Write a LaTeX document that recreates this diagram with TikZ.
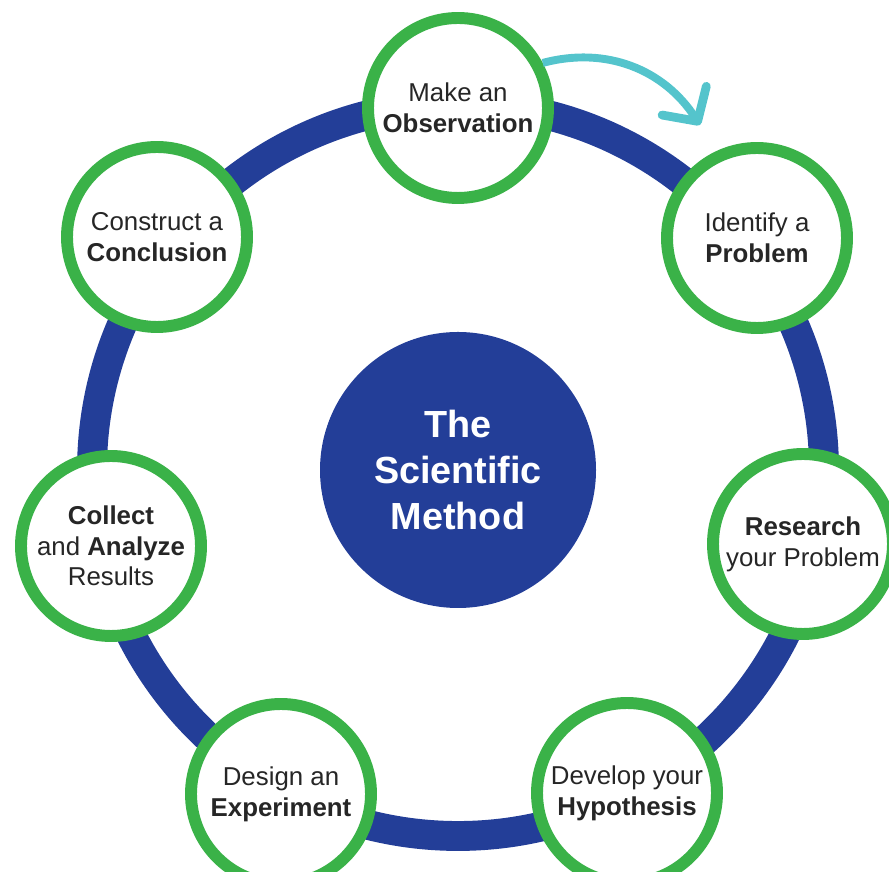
\documentclass[tikz,border=0pt]{standalone}
\usepackage{fontspec}
\setmainfont{Liberation Sans}
\usepackage{tikz}
\usetikzlibrary{shapes,arrows.meta,positioning}
\usepackage{xcolor}
\definecolor{ringblue}{RGB}{35,62,152}
\definecolor{stagegreen}{RGB}{58,178,72}
\definecolor{arrowteal}{RGB}{84,196,204}
\definecolor{textgray}{RGB}{38,38,38}

\begin{document}
\begin{tikzpicture}
\tikzstyle{stage}=[circle, draw=stagegreen, line width=6.8pt, fill=white, minimum size=3.6cm, inner sep=0pt, align=center, text=textgray, font=\fontsize{14.7}{17.5}\selectfont]
\tikzstyle{hub}=[circle, fill=ringblue, minimum size=5.52cm, inner sep=0pt, align=center, text=white, font=\bfseries\fontsize{21.5}{26}\selectfont]

\useasboundingbox (0,0) rectangle (17.78,17.44);

\node[hub] (method) at (9.16,8.04) {The\\Scientific\\Method};
\draw[ringblue, line width=17pt] (method.center) circle (7.32);

\node[stage] (observe) at (9.16,15.28) {Make an\\\textbf{Observation}};
\node[stage] (problem) at (15.14,12.68) {Identify a\\\textbf{Problem}};
\node[stage] (research) at (16.06,6.56) {\textbf{Research}\\your Problem};
\node[stage] (hypothesis) at (12.54,1.58) {Develop your\\\textbf{Hypothesis}};
\node[stage] (experiment) at (5.62,1.56) {Design an\\\textbf{Experiment}};
\node[stage] (results) at (2.22,6.52) {\textbf{Collect}\\and \textbf{Analyze}\\Results};
\node[stage] (conclusion) at (3.14,12.70) {Construct a\\\textbf{Conclusion}};

\coordinate (arrowend) at (14.0,14.94);
\draw[arrowteal, line width=4.5pt, -{Straight Barb[length=14pt,width=30pt,line width=5pt,round]}] (observe.28) to[out=15, in=123] (arrowend);
\end{tikzpicture}
\end{document}
